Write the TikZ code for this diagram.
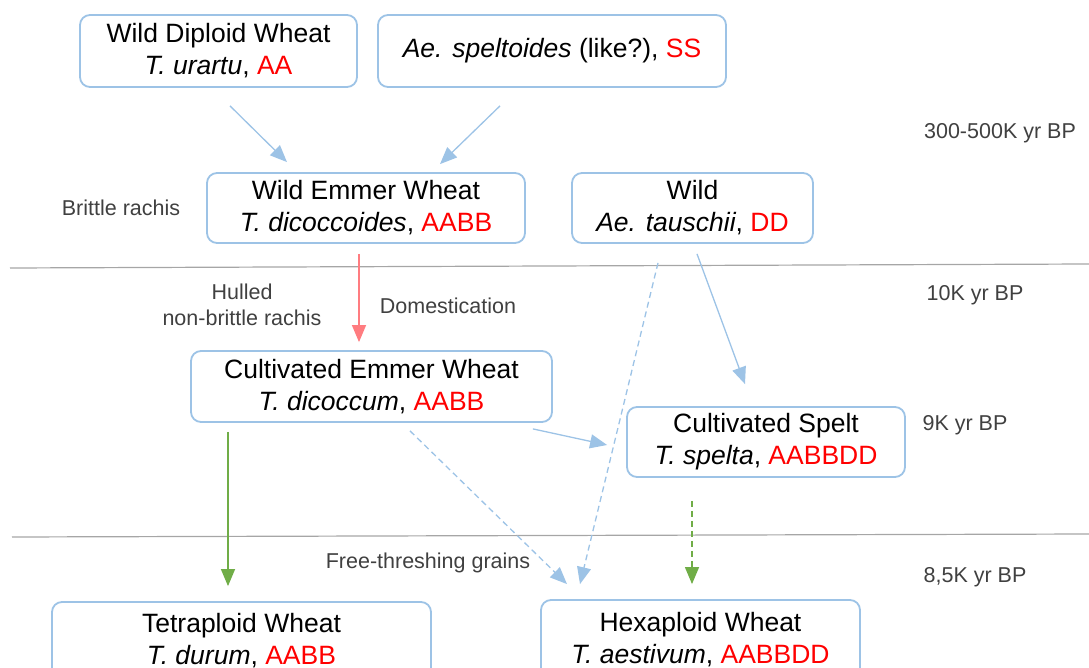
\documentclass[tikz,border=0pt]{standalone}
\usepackage{fontspec}
\setmainfont{Liberation Sans}
\usetikzlibrary{arrows.meta}
\definecolor{boxblue}{HTML}{9DC3E6}
\definecolor{arrblue}{HTML}{9DC3E6}
\definecolor{gred}{HTML}{FF0000}
\definecolor{arrred}{HTML}{FF7C80}
\definecolor{arrgreen}{HTML}{70AD47}
\definecolor{lblgray}{HTML}{404040}
\definecolor{rulegray}{HTML}{A6A6A6}
\newcommand{\gn}[1]{\textcolor{gred}{#1}}
\tikzset{
  box/.style={draw=boxblue, line width=1.8pt, rounded corners=10pt, align=center,
    inner sep=0pt, font=\fontsize{26.5}{32}\selectfont, text=black},
  lbl/.style={align=center, inner sep=0pt, text=lblgray, font=\fontsize{21.5}{26}\selectfont},
  arr/.style={line width=1.3pt, -{Triangle[length=17pt,width=14pt]}},
  dsh/.style={dash pattern=on 6pt off 4pt},
  rule/.style={draw=rulegray, line width=1.2pt}
}
\begin{document}
\begin{tikzpicture}[x=1pt,y=-1pt]
\useasboundingbox (0,0) rectangle (1089,668);
\clip (0,0) rectangle (1089,668);
% rules
\draw[rule] (10,268) -- (1089,264);
\draw[rule] (12,537) -- (1089,534);
% boxes
\node[box, minimum width=277pt, minimum height=72pt] (wdw) at (218.5,51) {Wild Diploid Wheat\\\textit{T. urartu}, \gn{AA}};
\node[box, minimum width=348pt, minimum height=72pt] (aes) at (552,51) {\textit{Ae. speltoides} (like?), \gn{SS}};
\node[box, minimum width=318pt, minimum height=70pt] (wem) at (366,208) {Wild Emmer Wheat\\\textit{T. dicoccoides}, \gn{AABB}};
\node[box, minimum width=241pt, minimum height=70pt] (tau) at (692.5,208) {Wild\\\textit{Ae. tauschii}, \gn{DD}};
\node[box, minimum width=361pt, minimum height=71pt] (cem) at (371.5,386.5) {Cultivated Emmer Wheat\\\textit{T. dicoccum}, \gn{AABB}};
\node[box, minimum width=278pt, minimum height=70pt] (csp) at (766,442) {Cultivated Spelt\\\textit{T. spelta}, \gn{AABBDD}};
\node[box, minimum width=379pt, minimum height=78pt] (tet) at (241.5,641) {Tetraploid Wheat\\\textit{T. durum}, \gn{AABB}};
\node[box, minimum width=319pt, minimum height=80pt] (hex) at (700.5,640) {Hexaploid Wheat\\\textit{T. aestivum}, \gn{AABBDD}};
% labels
\node[lbl] (t1) at (1000,133) {300-500K yr BP};
\node[lbl] (t2) at (975,295) {10K yr BP};
\node[lbl] (t3) at (965,425) {9K yr BP};
\node[lbl] (t4) at (975,577) {8,5K yr BP};
\node[lbl] (brit) at (121,208) {Brittle rachis};
\node[lbl] (hull) at (242,305) {Hulled\\non-brittle rachis};
\node[lbl] (dom) at (448,306) {Domestication};
\node[lbl] (free) at (428,563) {Free-threshing grains};
% arrows
\draw[arr, arrblue] ([xshift=11.5pt,yshift=-18pt]wdw.south) -- ([xshift=-79pt,yshift=10pt]wem.north);
\draw[arr, arrblue] ([xshift=-52pt,yshift=-18pt]aes.south) -- ([xshift=74pt,yshift=8pt]wem.north);
\draw[arr, arrred] ([xshift=-7pt,yshift=-10pt]wem.south) -- ([xshift=-12.5pt,yshift=8pt]cem.north);
\draw[arr, arrblue] ([xshift=4.5pt,yshift=-10pt]tau.south) -- ([xshift=-21pt,yshift=22pt]csp.north);
\draw[arr, arrblue, dsh] ([xshift=-34.5pt,yshift=-19pt]tau.south) -- ([xshift=-120.5pt,yshift=15pt]hex.north);
\draw[arr, arrblue] ([xshift=-20pt,yshift=-6pt]cem.south east) -- ([xshift=-19pt,yshift=-3pt]csp.west);
\draw[arr, arrblue, dsh] ([xshift=38.5pt,yshift=-8pt]cem.south) -- ([xshift=-133.5pt,yshift=15pt]hex.north);
\draw[arr, arrgreen] ([xshift=-143.5pt,yshift=-9pt]cem.south) -- ([xshift=-13.5pt,yshift=15pt]tet.north);
\draw[arr, arrgreen, dsh] ([xshift=-74pt,yshift=-23pt]csp.south) -- ([xshift=-8.5pt,yshift=15pt]hex.north);
\end{tikzpicture}
\end{document}
